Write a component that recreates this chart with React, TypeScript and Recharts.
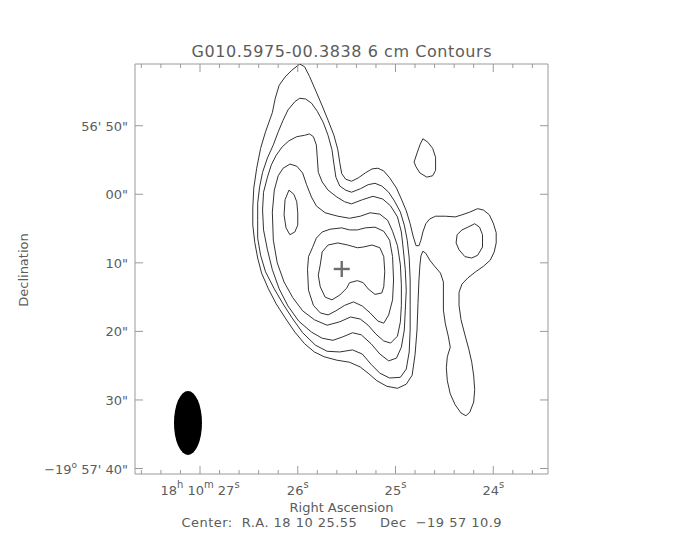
import React from 'react';
import { ScatterChart, Scatter, XAxis, YAxis } from 'recharts';

// ---- axes ----
const raDomain: [number, number] = [23.44, 27.665]; // RA seconds (18h10m..)
const decDomain: [number, number] = [41.0, 100.8]; // arcsec south of -19d56'00"
const raTicks = [23.6, 23.8, 24, 24.2, 24.4, 24.6, 24.8, 25, 25.2, 25.4, 25.6, 25.8, 26, 26.2, 26.4, 26.6, 26.8, 27, 27.2, 27.4, 27.6];
const decTicks = [50, 60, 70, 80, 90, 100];
const decTickLabels = ["56' 50\"", '00"', '10"', '20"', '30"', "57' 40\""];

// ---- contours: [RA seconds, Dec arcsec] ----
const contour1: [number, number][] = [
  [25.98, 41.0], [25.93, 41.4], [25.88, 42.8], [25.81, 45.1], [25.75, 47.1], [25.69, 49.2], [25.63, 51.4], [25.59, 53.5], [25.57, 55.4], [25.55, 57.0],
  [25.51, 57.8], [25.45, 58.1], [25.38, 57.6], [25.31, 56.9], [25.24, 56.3], [25.18, 56.2], [25.12, 56.6], [25.06, 57.6], [24.99, 59.1], [24.94, 60.7],
  [24.89, 62.4], [24.85, 64.3], [24.82, 66.1], [24.79, 67.5], [24.76, 67.5], [24.74, 66.7], [24.72, 65.5], [24.69, 64.3], [24.65, 63.6], [24.59, 63.2],
  [24.49, 63.2], [24.39, 63.3], [24.32, 63.0], [24.24, 62.6], [24.16, 62.1], [24.10, 62.3], [24.04, 63.0], [24.00, 64.2], [23.97, 65.6], [23.97, 67.1],
  [23.99, 68.4], [24.03, 69.6], [24.10, 70.5], [24.18, 71.3], [24.26, 72.2], [24.32, 73.1], [24.35, 74.3], [24.35, 76.2], [24.33, 78.3], [24.29, 80.5],
  [24.25, 82.6], [24.22, 84.5], [24.20, 86.5], [24.19, 88.5], [24.20, 90.3], [24.24, 91.8], [24.28, 92.3], [24.33, 91.9], [24.39, 90.7], [24.44, 89.1],
  [24.47, 87.2], [24.48, 85.3], [24.47, 83.7], [24.44, 82.3], [24.46, 80.7], [24.49, 78.9], [24.51, 76.9], [24.51, 74.7], [24.51, 72.8], [24.54, 71.5],
  [24.60, 70.5], [24.65, 69.6], [24.69, 68.6], [24.72, 68.3], [24.74, 69.0], [24.75, 70.3], [24.76, 72.5], [24.77, 75.9], [24.78, 79.8], [24.80, 83.4],
  [24.83, 86.4], [24.89, 87.7], [24.98, 88.3], [25.09, 88.0], [25.19, 87.2], [25.28, 86.1], [25.36, 85.2], [25.47, 84.5], [25.60, 84.2], [25.73, 83.7],
  [25.83, 83.0], [25.93, 81.8], [26.03, 80.1], [26.13, 78.0], [26.22, 76.0], [26.30, 73.8], [26.37, 71.5], [26.41, 69.3], [26.44, 67.0], [26.46, 64.5],
  [26.46, 62.0], [26.45, 59.1], [26.42, 56.2], [26.38, 53.3], [26.33, 50.9], [26.26, 48.1], [26.23, 46.0], [26.19, 44.1], [26.13, 42.9], [26.06, 41.9],
  [25.98, 41.0],
];
const contour2: [number, number][] = [
  [25.98, 46.0], [25.92, 46.1], [25.86, 46.7], [25.80, 47.9], [25.74, 49.5], [25.69, 51.4], [25.65, 53.5], [25.63, 55.6], [25.61, 57.5], [25.57, 58.8],
  [25.51, 59.4], [25.45, 59.7], [25.36, 59.2], [25.28, 58.6], [25.21, 58.4], [25.14, 58.8], [25.07, 59.7], [25.01, 61.0], [24.95, 62.6], [24.91, 64.5],
  [24.88, 66.7], [24.86, 69.3], [24.85, 72.5], [24.85, 76.2], [24.85, 79.8], [24.86, 83.0], [24.89, 85.5], [24.95, 86.7], [25.06, 86.8], [25.16, 86.1],
  [25.25, 84.8], [25.34, 83.3], [25.44, 82.7], [25.57, 83.0], [25.70, 82.9], [25.82, 82.0], [25.95, 80.2], [26.06, 78.0], [26.15, 76.0], [26.24, 73.8],
  [26.33, 71.3], [26.38, 68.9], [26.41, 66.4], [26.41, 63.8], [26.41, 61.3], [26.39, 58.9], [26.36, 56.8], [26.31, 54.7], [26.25, 52.8], [26.20, 50.9],
  [26.15, 49.2], [26.10, 47.7], [26.03, 46.5], [25.98, 46.0],
];
const contour3: [number, number][] = [
  [25.88, 51.2], [25.84, 51.6], [25.81, 52.8], [25.80, 54.7], [25.79, 56.8], [25.75, 58.2], [25.69, 59.4], [25.60, 60.4], [25.52, 61.1], [25.45, 61.4],
  [25.34, 60.8], [25.23, 60.3], [25.13, 60.7], [25.05, 61.7], [24.98, 63.3], [24.94, 65.5], [24.92, 68.1], [24.90, 71.0], [24.89, 74.0], [24.90, 76.9],
  [24.91, 79.8], [24.94, 82.3], [24.99, 83.9], [25.07, 84.3], [25.16, 83.3], [25.25, 81.8], [25.35, 80.5], [25.44, 80.2], [25.54, 80.8], [25.64, 81.3],
  [25.75, 81.0], [25.86, 80.1], [25.99, 78.5], [26.10, 76.3], [26.19, 73.8], [26.26, 71.0], [26.31, 68.1], [26.35, 65.2], [26.36, 62.3], [26.35, 59.7],
  [26.31, 57.5], [26.27, 55.7], [26.22, 54.3], [26.16, 53.1], [26.09, 52.2], [26.01, 51.6], [25.93, 51.4], [25.88, 51.2],
];
const contour4: [number, number][] = [
  [26.08, 55.6], [26.01, 55.9], [25.95, 56.9], [25.91, 58.6], [25.86, 60.4], [25.81, 61.7], [25.72, 62.7], [25.59, 63.2], [25.47, 63.5], [25.36, 63.2],
  [25.26, 62.7], [25.16, 62.9], [25.08, 63.8], [25.03, 65.4], [24.98, 67.5], [24.95, 70.3], [24.94, 73.2], [24.94, 76.2], [24.95, 78.6], [24.98, 80.7],
  [25.05, 81.7], [25.12, 81.4], [25.20, 80.4], [25.28, 79.1], [25.36, 78.2], [25.46, 77.9], [25.57, 78.6], [25.70, 79.1], [25.83, 78.3], [25.95, 77.0],
  [26.05, 75.1], [26.14, 72.8], [26.21, 70.0], [26.25, 66.7], [26.26, 62.6], [26.24, 59.4], [26.20, 57.3], [26.15, 56.2], [26.08, 55.6],
];
const contour5: [number, number][] = [
  [25.85, 67.8], [25.81, 66.4], [25.75, 65.5], [25.67, 65.1], [25.55, 64.9], [25.47, 65.2], [25.39, 65.2], [25.31, 64.9], [25.21, 64.8], [25.12, 65.4],
  [25.06, 66.7], [25.03, 69.1], [25.02, 72.5], [25.03, 75.4], [25.07, 77.6], [25.12, 78.8], [25.18, 78.5], [25.26, 77.3], [25.34, 76.3], [25.43, 75.7],
  [25.52, 76.2], [25.61, 77.0], [25.69, 77.6], [25.77, 77.3], [25.84, 76.2], [25.89, 74.0], [25.90, 71.0], [25.89, 69.1], [25.85, 67.8],
];
const contour6: [number, number][] = [
  [25.77, 70.3], [25.75, 68.4], [25.69, 67.4], [25.59, 67.1], [25.49, 67.4], [25.39, 67.8], [25.33, 67.7], [25.24, 67.4], [25.16, 67.8], [25.12, 69.1],
  [25.11, 71.3], [25.12, 73.5], [25.14, 74.4], [25.21, 74.6], [25.28, 73.8], [25.33, 72.9], [25.39, 72.6], [25.47, 72.9], [25.50, 73.7], [25.57, 74.7],
  [25.65, 75.4], [25.72, 75.0], [25.77, 73.5], [25.79, 71.8], [25.77, 70.3],
];
const islandWest: [number, number][] = [
  [26.09, 59.4], [26.04, 60.0], [26.01, 61.1], [26.00, 62.7], [26.00, 64.5], [26.03, 65.5], [26.08, 65.9], [26.12, 64.9], [26.14, 63.0], [26.13, 60.8], [26.09, 59.4],
];
const islandEast: [number, number][] = [
  [24.37, 65.9], [24.32, 65.2], [24.26, 64.8], [24.19, 64.3], [24.14, 64.8], [24.11, 65.9], [24.11, 67.7], [24.16, 68.9], [24.22, 69.3], [24.29, 69.1],
  [24.35, 68.1], [24.38, 67.1], [24.37, 65.9],
];
const islandNorth: [number, number][] = [
  [24.72, 51.9], [24.67, 52.4], [24.62, 53.3], [24.59, 54.6], [24.59, 56.5], [24.62, 57.3], [24.68, 57.5], [24.75, 56.9], [24.79, 56.0], [24.81, 55.3],
  [24.78, 54.0], [24.75, 52.8], [24.72, 51.9],
];
const centerPos: [number, number] = [25.55, 70.9];
const beamPos: [number, number] = [27.123, 93.36];

const contours = [contour1, contour2, contour3, contour4, contour5, contour6, islandWest, islandEast, islandNorth];

const W = 668;
const H = 524;
const FRAME = '#9a9a9a';
const TXT = '#5c5c5c';
const LINE = '#333333';
const FONT = '"DejaVu Sans", sans-serif';

const toPts = (c: [number, number][]) => c.map(([ra, dec]) => ({ ra, dec }));
const isMajor = (v: number) => Math.abs(v - Math.round(v)) < 1e-6;
const NoShape = () => <g />;

const BottomTick = (p: any) => {
  const { x, y, payload } = p;
  const v = payload.value;
  const major = isMajor(v);
  return (
    <g>
      <line x1={x} x2={x} y1={y} y2={y - (major ? 8 : 4)} stroke={FRAME} />
      {major && (
        <text x={x} y={y + 21} textAnchor="middle" fontSize={13} fill={TXT} fontFamily={FONT}>
          {Math.round(v) === 27 ? (
            <>
              <tspan>18</tspan>
              <tspan dy={-7} fontSize={10}>h</tspan>
              <tspan dy={7}> 10</tspan>
              <tspan dy={-7} fontSize={10}>m</tspan>
              <tspan dy={7}> 27</tspan>
              <tspan dy={-7} fontSize={10}>s</tspan>
            </>
          ) : (
            <>
              <tspan>{Math.round(v)}</tspan>
              <tspan dy={-7} fontSize={10}>s</tspan>
            </>
          )}
        </text>
      )}
    </g>
  );
};

const TopTick = (p: any) => {
  const { x, y, payload } = p;
  const major = isMajor(payload.value);
  return <line x1={x} x2={x} y1={y} y2={y + (major ? 8 : 4)} stroke={FRAME} />;
};

const LeftTick = (p: any) => {
  const { x, y, payload } = p;
  const v = payload.value;
  const label = decTickLabels[decTicks.indexOf(v)] ?? '';
  return (
    <g>
      <line x1={x} x2={x + 8} y1={y} y2={y} stroke={FRAME} />
      <text x={x - 7} y={y + 5} textAnchor="end" fontSize={13} fill={TXT} fontFamily={FONT}>
        {v === 100 ? (
          <>
            <tspan>−19</tspan>
            <tspan dy={-6} fontSize={9}>o</tspan>
            <tspan dy={6}>{' ' + label}</tspan>
          </>
        ) : (
          label
        )}
      </text>
    </g>
  );
};

const RightTick = (p: any) => {
  const { x, y } = p;
  return <line x1={x} x2={x - 8} y1={y} y2={y} stroke={FRAME} />;
};

const CrossShape = (p: any) => {
  const { cx, cy } = p;
  return (
    <g stroke="#6e6e6e" strokeWidth={2.4}>
      <line x1={cx - 8} x2={cx + 8} y1={cy} y2={cy} />
      <line x1={cx} x2={cx} y1={cy - 8} y2={cy + 8} />
    </g>
  );
};

const BeamShape = (p: any) => {
  const { cx, cy } = p;
  return <ellipse cx={cx} cy={cy} rx={14} ry={32} fill="#000" />;
};

const axisCommon = {
  type: 'number' as const,
  allowDataOverflow: true,
  interval: 0 as const,
  tickSize: 0,
  tickMargin: 0,
  tickLine: false,
  axisLine: { stroke: FRAME },
};

export default function App() {
  return (
    <div style={{ position: 'relative', width: W, height: H }}>
      <ScatterChart width={W} height={H} margin={{ top: 55, right: 127, bottom: 57, left: 126 }}>
        <XAxis {...axisCommon} xAxisId={0} dataKey="ra" domain={raDomain} reversed ticks={raTicks} height={1} tick={(p: any) => <BottomTick {...p} />} />
        <XAxis {...axisCommon} xAxisId="top" orientation="top" dataKey="ra" domain={raDomain} reversed ticks={raTicks} height={1} tick={(p: any) => <TopTick {...p} />} />
        <YAxis {...axisCommon} yAxisId={0} dataKey="dec" domain={decDomain} reversed ticks={decTicks} width={1} tick={(p: any) => <LeftTick {...p} />} />
        <YAxis {...axisCommon} yAxisId="right" orientation="right" dataKey="dec" domain={decDomain} reversed ticks={decTicks} width={1} tick={(p: any) => <RightTick {...p} />} />
        {contours.map((c, i) => (
          <Scatter
            key={i}
            xAxisId={0}
            yAxisId={0}
            data={toPts(c)}
            fill={LINE}
            line={{ stroke: LINE, strokeWidth: 1 }}
            lineJointType="linear"
            shape={NoShape}
            isAnimationActive={false}
          />
        ))}
        <Scatter xAxisId={0} yAxisId={0} data={[{ ra: beamPos[0], dec: beamPos[1] }]} shape={BeamShape} isAnimationActive={false} />
        <Scatter xAxisId={0} yAxisId={0} data={[{ ra: centerPos[0], dec: centerPos[1] }]} shape={CrossShape} isAnimationActive={false} />
      </ScatterChart>
      <svg width={W} height={H} style={{ position: 'absolute', left: 0, top: 0, pointerEvents: 'none' }} fontFamily={FONT}>
        <text x={333.5} y={49} textAnchor="middle" fontSize={16} fill={TXT} textLength={300} lengthAdjust="spacing">
          G010.5975-00.3838 6 cm Contours
        </text>
        <text x={333.5} y={504} textAnchor="middle" fontSize={13} fill={TXT}>
          Right Ascension
        </text>
        <text x={333.5} y={519} textAnchor="middle" fontSize={13} fill={TXT} xmlSpace="preserve" textLength={320} lengthAdjust="spacing">
          {'Center:  R.A. 18 10 25.55     Dec  −19 57 10.9'}
        </text>
        <text x={20} y={262} textAnchor="middle" fontSize={13} fill={TXT} transform="rotate(-90 20 262)">
          Declination
        </text>
      </svg>
    </div>
  );
}
